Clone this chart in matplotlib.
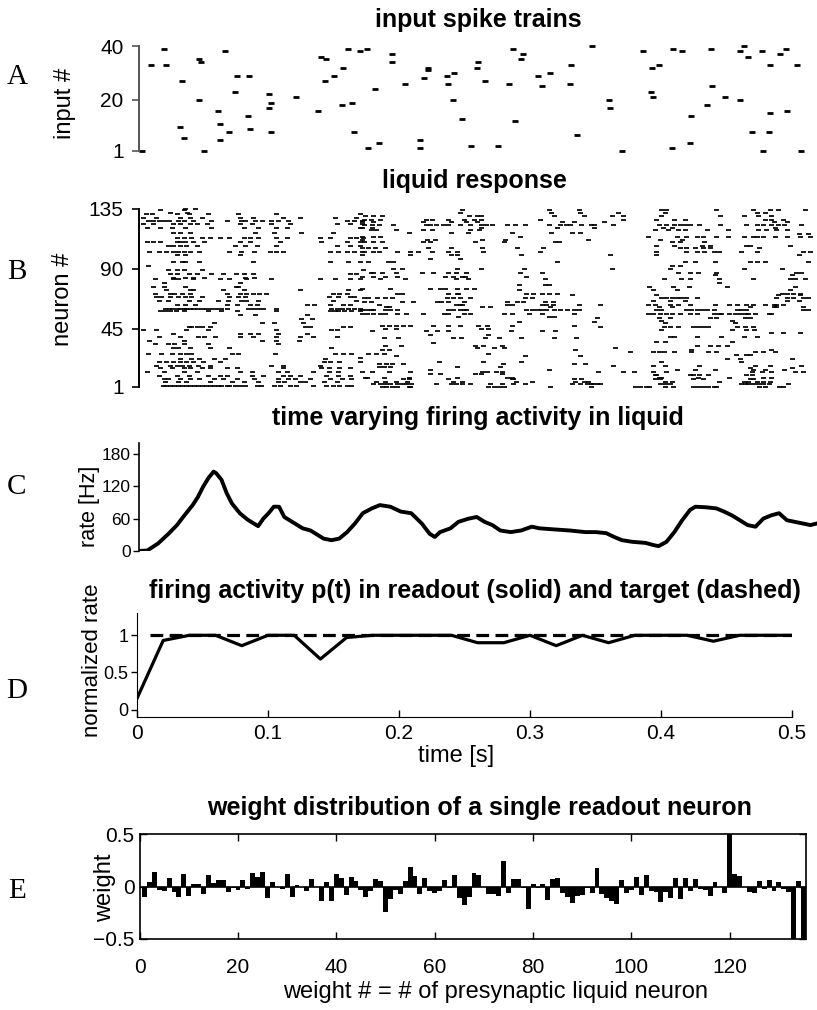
import numpy as np
import matplotlib.pyplot as plt

plt.rcParams['font.family'] = ['Liberation Sans', 'DejaVu Sans']

W, H = 817, 1010

# ---- A: input spike trains (time in ms, input number)
input_t_ms = [2, 9, 19, 21, 33, 31, 34, 46, 47, 46, 50, 66, 60, 62, 62, 69, 75, 73, 84, 83,
              85, 99, 101, 99, 101, 120, 137, 139, 143, 142, 149, 156, 155, 163, 160, 169, 174, 164, 175, 183,
              180, 193, 193, 203, 218, 221, 221, 215, 215, 235, 236, 241, 240, 247, 254, 259, 258, 274, 264, 286,
              293, 292, 283, 287, 305, 314, 308, 330, 329, 346, 335, 359, 360, 369, 385, 392, 397, 391, 393, 408,
              415, 407, 421, 422, 434, 438, 437, 448, 459, 462, 465, 459, 468, 476, 482, 482, 481, 477, 490, 494,
              495, 503, 506]
input_n = [1, 33, 39, 33, 27, 10, 6, 35, 34, 20, 1, 38, 16, 11, 5, 8, 29, 23, 29, 14,
           9, 22, 19, 17, 8, 21, 16, 36, 35, 27, 29, 32, 18, 19, 39, 38, 39, 8, 2, 4,
           24, 37, 34, 26, 28, 31, 32, 5, 2, 29, 26, 30, 20, 13, 3, 34, 32, 3, 27, 39,
           37, 35, 26, 12, 29, 30, 25, 33, 26, 40, 7, 20, 17, 1, 38, 32, 33, 23, 21, 39,
           38, 2, 4, 14, 18, 25, 39, 21, 38, 40, 36, 20, 8, 38, 33, 15, 8, 1, 37, 39,
           16, 33, 1]

# ---- B: liquid response, "neuron: spike times in ms"
liquid_rows = """
135: 35 43
134: 16 34
132: 24 37
131: 5 10 29 38 53 76 105 169
128: 3 13 31 39 48 77 87 110 123 150 166
126: 7 11 15 19 23 30 34 41 55 67 78 81 89 94 101 106 114 159 164 170
124: 3 11 26 31 39 44 52 77 86 101 115 151 161 170
121: 6 16 25 35 55 80 91 105 113 169
117: 26 31 39 89 103 124 148
113: 29 34 40 48 54 62 69 80 85 91 105 113 138 146 161 166 171
110: 6 11 16 29 31 35 41 50 77 85 108 139 159 169
107: 22 26 31 36 44 73 81 90 105 151 161 169
103: 8 15 21 26 30 34 39 46 69 78 88 100 105 110 146 152 159 164 170
100: 29 35 77
95: 26 33 35 46 87 146 160 169
92: 7
89: 22 29 34 48 171
86: 24 29 38 44 55 64 74 80 87 161 166
83: 26 35 41 50 81 88
82: 12 26 30 41 62 69 82 101 138 150 161 169
79: 19 77
76: 11 19 35 74 76
74: 21 39 41 64 80 123 160 169
71: 12 24 27 33 39 67 77 82 87 92 97 148 153 159
69: 13 17 24 30 35 40 48 69 76 81 145 152 161 164
66: 15 22 38 46 60 68 78 82 91 148 166
63: 29 35 43 67 75 85 90 128 134 146 156 161
60: 20 23 25 29 31 34 36 39 41 44 48 51 55 59 63 67 83 87 91 95 105 147 151 155 160 164 169
58: 16 20 24 28 34 53 63 75 105 146 150 152 157 162 169
55: 77 89 128
52: 124 132
49: 57 94 103 125
46: 38 40 44 48 54 127 131 156 161
44: 3 13 36 53 105 147 151
41: 26 77 85 91 106 128
39: 15 31 45 50 58 77 87 105 123 133 151
36: 8 34 94 105 122
33: 12 22 27 34 53 106
30: 26 30 39 54 69 147
26: 7 17 25 31 36 40 71 76 104 150 156 162
22: 31 40 46 57 66 142
20: 15 21 26 31 36 41 49 62 141 146 153 169
17: 13 24 29 33 38 45 54 101 110 138
15: 16 25 34 39 48 54 67 75 110 139 145 153 161
12: 6 19 34 44 77 86 106 113 133 145 152 170
9: 15 29 38 53 62 67 86 95 110 115 123 143 152 161
7: 19 22 31 39 46 57 64 75 88 106 114 119 131 146 155 162
5: 20 30 36 54 71 80 91 106 111 123 127 141 151
2: 18 21 24 27 30 33 36 39 42 45 48 51 54 57 60 63 67 69 73 77 81 90 93 103 108 115 120 133 143 148 153 159 162
134: 247 313 336
132: 245 315 337
130: 173 179 186 252 258 261 317 340
127: 172 177 184 219 224 236 248 256 261 306
125: 170 179 217 238 250 258 323 332
123: 172 178 183 194 219 222 227 232 236 245 253 261 265 270 281 287 295 313 322 326 329 338 345
121: 170 178 261 319
119: 177 181 196 217 224 253 260
117: 206 238 251 285 315 331 337
114: 170 179 184 291
112: 170 220 226 262 280 343
110: 172 179 186 217 222 257 279 318 321
106: 170 175 180 188 221 238 262 289 309
103: 172 179 183 197 207 213 224 236 243 263 306
100: 170 207 238 243 292
97: 222 245
95: 175 190 194 319
90: 194 201 243 261 294
87: 177 179 186 196 216 225 236 242 250 291 308
84: 170 179 188 197 234 240 247 249 296
82: 184 203 242 251 310
78: 290 310 313
75: 170 192 222 230 234 243 250 256
74: 290
71: 197 201 236 243 244 296 301 308 313 319
70: 331
68: 172 175 182 188 193 235 240 245 253 295 300
65: 172 177 201 209 228 231 236 248 281 289 293 310 316
63: 183 242 245 247 281 285 308 311 316 336
61: 189 191 262 268 314
59: 170 174 177 179 188 192 197 236 240 245 248 250 296 300 304 307 311 317 322 327 332 336
56: 170 174 179 184 188 197 204 217 233 236 248 253 279 285 298 308 332
54: 244 313 317
50: 290 348
47: 186 191 196 202 207 225 236 245 259 266 285 332
45: 188 196 261 267
43: 178 219 228 236 284 308 318
40: 222 267
38: 187 198 240 246 264 275 292 317 334
34: 225
32: 188 200 257 263 277
30: 258 271 279
29: 186 191 333
26: 175 181 187 267
24: 196 295 337
23: 169
20: 229 263 292
18: 183 189 193 202 278 332 341
16: 183 187 192 243 276
14: 222 313
12: 178 191 207 262 266 273 277
11: 222 230 257 261 277
8: 173 174 187 206 243 281 285
7: 202 206 236 285 286 332 338
5: 181 188 196 205 240 247 288 300 333 340 343
3: 179 184 188 192 197 201 204 208 227 238 242 247 253 268 277 286 295 331 337 342 345
1: 186 189 193 197 206 207 267 271 275 279 314 345
134: 399 403 441 469 482 488 509
132: 366 402 472 478
130: 361 370 399 444 462 473 483
127: 370 395 409 417 478 483 492
125: 355 485 495
123: 348 362 397 403 409 413 417 421 428 444 464 472 477 483 488 493 506
121: 348 400 407 486
119: 394 404 412 417 434 450 473 479 487 495
116: 504 511
114: 389 411 418 426 431 441 450 462 469 472 477 486 495 505 513
112: 398 415
110: 407 413 432
107: 395 409 430 436 464 467 497
106: 413 418 425 431 436 474
103: 395 418 426 432 439 443 460 472 507 513
100: 360 395 504
95: 417 425 440 467 472 478 511
92: 407 413
90: 361 406 462 491
87: 412 421 427 441 502 506
85: 440 499
82: 401 414 421 443 469 497 501 509
79: 443
76: 390 408 420 449 501
74: 393 411 497
71: 491 495 500 505
70: 395 488 505
68: 399 403 407 411 414 418 426 487 495 500 507 511
66: 393 406 417 495 504
63: 352 389 394 406 412 421 440 451 457 464 469 478 485 487 492
61: 397 407 467 485 487 507
59: 395 399 418 422 426 430 434 439 457 460 464 507 511
56: 389 393 398 403 407 413 421 426 439 443 445 451 455 459 463 465 471 481 483
53: 350 397 406 436 441 463 467
51: 399 453
49: 402 455
46: 352 401 406 412 423 427 431 435 457 463 469
44: 399 453 464 470
42: 483 492 505
39: 406 409 426 445 462 472
35: 395 402 453
32: 426 436 442 449
30: 364
29: 422 483
27: 375 393 397 401 409 422 435 441 471 477 486
25: 456 464 467
22: 449 459 499
20: 399 460
17: 362 393 402 428 471 482 506
15: 467 499
14: 411 425 440 469 478 493
12: 351 370 378 393 403 468 476 483 501 507
10: 394 395 421 423 428 435 464 468
8: 397 399 427 451 477 483
7: 394 398 423 431 467 469
5: 402 407 443 462 465 472 477 482
3: 347 350 352 398 402 406 460 463 465 469 473 477 481 496
1: 379 383 387 390 402 408 423 427 431 435 439 441 474 478 489 492
"""

# ---- C: population rate
rate_t = [0, 0.0064, 0.0146, 0.0226, 0.029, 0.0347, 0.041, 0.045, 0.049, 0.053,
          0.057, 0.059, 0.063, 0.067, 0.071, 0.077, 0.083, 0.087, 0.091, 0.095,
          0.099, 0.103, 0.107, 0.111, 0.115, 0.119, 0.125, 0.131, 0.135, 0.141,
          0.147, 0.153, 0.159, 0.165, 0.171, 0.178, 0.184, 0.192, 0.2, 0.208,
          0.216, 0.222, 0.226, 0.23, 0.238, 0.244, 0.252, 0.258, 0.264, 0.27,
          0.276, 0.284, 0.292, 0.3, 0.306, 0.317, 0.329, 0.341, 0.349, 0.357,
          0.363, 0.369, 0.377, 0.387, 0.393, 0.397, 0.403, 0.409, 0.415, 0.421,
          0.425, 0.433, 0.441, 0.447, 0.453, 0.459, 0.465, 0.471, 0.477, 0.483,
          0.489, 0.495, 0.501, 0.507, 0.513, 0.518]
rate_hz = [0, 1, 14, 32, 48, 66, 85, 100, 119, 135,
           147, 144, 132, 107, 88, 70, 58, 52, 46, 60,
           70, 82, 82, 63, 57, 51, 42, 38, 32, 23,
           20, 23, 35, 51, 70, 79, 85, 82, 73, 70,
           51, 32, 26, 35, 42, 54, 60, 63, 54, 48,
           38, 35, 38, 45, 42, 40, 38, 35, 35, 33,
           26, 20, 17, 15, 11, 9, 17, 35, 57, 76,
           82, 81, 79, 73, 66, 57, 48, 45, 60, 66,
           70, 57, 54, 51, 48, 51]

# ---- D: readout vs target
readout_t = [0, 0.02, 0.04, 0.06, 0.08, 0.10, 0.12, 0.14, 0.16, 0.18, 0.20, 0.22, 0.24,
             0.26, 0.28, 0.30, 0.32, 0.34, 0.36, 0.38, 0.40, 0.42, 0.44, 0.46, 0.48, 0.50]
readout = [0.15, 0.93, 1.0, 1.0, 0.86, 1.0, 1.0, 0.68, 0.97, 1.0, 1.0, 1.0, 1.0,
           0.9, 0.9, 1.0, 0.86, 1.0, 0.9, 1.0, 1.0, 1.0, 0.92, 1.0, 1.0, 1.0]
target_t = [0.01, 0.5]
target = [1.0, 1.0]

# ---- E: readout weights, one per liquid neuron
weights = [-0.10, 0.04, 0.14, -0.03, -0.04, 0.08, -0.05, -0.10, 0.12, -0.09,
           0.02, 0.02, -0.07, 0.11, 0.03, 0.06, 0.06, -0.05, -0.01, -0.03,
           0.06, -0.02, 0.13, 0.09, 0.14, -0.11, 0.04, 0.00, -0.02, 0.12,
           -0.10, 0.01, 0.00, -0.04, 0.07, 0.00, -0.14, 0.04, -0.14, 0.12,
           0.08, -0.08, 0.09, 0.05, -0.03, -0.10, -0.04, 0.07, 0.05, -0.24,
           -0.12, -0.03, -0.07, 0.05, 0.19, 0.10, -0.07, 0.08, -0.04, -0.06,
           -0.04, 0.06, -0.01, 0.11, -0.11, -0.18, -0.10, 0.13, 0.11, 0.00,
           -0.07, -0.07, -0.09, 0.24, -0.06, 0.07, 0.07, -0.01, -0.21, 0.02,
           -0.01, 0.02, -0.13, 0.07, 0.08, -0.06, -0.10, -0.16, -0.09, -0.08,
           -0.01, -0.06, 0.18, -0.07, -0.11, -0.14, -0.17, 0.06, -0.06, -0.03,
           0.09, -0.08, 0.11, -0.04, -0.05, -0.15, -0.05, -0.11, 0.08, -0.12,
           0.08, -0.04, 0.07, -0.02, -0.03, -0.09, 0.04, 0.00, -0.06, 0.50,
           0.12, 0.10, 0.00, -0.05, -0.06, 0.05, -0.02, 0.06, -0.04, 0.04,
           -0.02, -0.05, -0.50, 0.05, -0.50]

liq_t, liq_n = [], []
for line in liquid_rows.strip().splitlines():
    n, ts = line.split(':')
    for t in ts.split():
        liq_t.append(float(t) / 1000)
        liq_n.append(int(n))


def px_axes(fig, x0, y0, x1, y1):
    return fig.add_axes([x0 / W, 1 - y1 / H, (x1 - x0) / W, (y1 - y0) / H])


def left_only(ax):
    for s in ['top', 'right', 'bottom']:
        ax.spines[s].set_visible(False)
    ax.set_xticks([])


fig = plt.figure(figsize=(W / 100, H / 100), dpi=100)

title_kw = dict(fontsize=18, fontweight='bold', ha='center', va='baseline')
letter_kw = dict(fontsize=21, family='Liberation Serif', ha='center', va='center')
label_kw = dict(fontsize=17, rotation=90, ha='center', va='center')

# A
ax = px_axes(fig, 139, 46, 817, 151)
ax.plot(np.array(input_t_ms) / 1000, input_n, ls='none', marker='_', ms=4.5, mew=2.0,
        color='k', clip_on=False)
ax.set_xlim(0, 0.518)
ax.set_ylim(1, 40)
ax.set_yticks([1, 20, 40])
left_only(ax)
ax.spines['left'].set_color('#555555')
ax.spines['left'].set_linewidth(1.4)
ax.tick_params(axis='y', direction='out', length=5, width=1.2, pad=6, labelsize=15,
               color='#555555')
fig.text(478 / W, 1 - 27 / H, 'input spike trains', **title_kw)
fig.text(65 / W, 1 - 103 / H, 'input #', **label_kw)
fig.text(17 / W, 1 - 77 / H, 'A', **letter_kw)

# B
ax = px_axes(fig, 139, 209, 817, 387)
ax.plot(liq_t, liq_n, ls='none', marker='_', ms=3.6, mew=1.25, color='k', clip_on=False)
ax.set_xlim(0, 0.518)
ax.set_ylim(1, 135)
ax.set_yticks([1, 45, 90, 135])
left_only(ax)
ax.spines['left'].set_linewidth(1.4)
ax.tick_params(axis='y', direction='out', length=5, width=1.2, pad=6, labelsize=15)
fig.text(474 / W, 1 - 188 / H, 'liquid response', **title_kw)
fig.text(63 / W, 1 - 299 / H, 'neuron #', **label_kw)
fig.text(17 / W, 1 - 272 / H, 'B', **letter_kw)

# C
ax = px_axes(fig, 139, 443, 817, 551)
ax.plot(rate_t, rate_hz, color='k', lw=2.8, solid_joinstyle='round')
ax.set_xlim(0, 0.518)
ax.set_ylim(0, 200)
ax.set_yticks([0, 60, 120, 180])
left_only(ax)
ax.spines['left'].set_linewidth(1.2)
ax.tick_params(axis='y', direction='out', length=4, width=1.0, pad=2, labelsize=12.5)
fig.text(478 / W, 1 - 425 / H, 'time varying firing activity in liquid', **title_kw)
fig.text(89 / W, 1 - 506 / H, 'rate [Hz]', fontsize=15.5, rotation=90, ha='center',
         va='center')
fig.text(17 / W, 1 - 487 / H, 'C', **letter_kw)

# D
ax = px_axes(fig, 137, 613, 792, 717)
ax.plot(target_t, target, color='k', lw=2.3, dashes=(4, 2))
ax.plot(readout_t, readout, color='k', lw=2.3)
ax.set_xlim(0, 0.5)
ax.set_ylim(-0.1, 1.3)
ax.set_yticks([0, 0.5, 1])
ax.set_yticklabels(['0', '0.5', '1'])
ax.set_xticks([0, 0.1, 0.2, 0.3, 0.4, 0.5])
ax.set_xticklabels(['0', '0.1', '0.2', '0.3', '0.4', '0.5'])
for s in ['top', 'right']:
    ax.spines[s].set_visible(False)
ax.tick_params(axis='y', direction='out', length=4, width=1.0, pad=2, labelsize=13)
ax.tick_params(axis='x', direction='in', length=5, width=1.0, pad=5, labelsize=15)
fig.text(475 / W, 1 - 598 / H, 'firing activity p(t) in readout (solid) and target (dashed)',
         **title_kw)
fig.text(456 / W, 1 - 756 / H, 'time [s]', fontsize=17, ha='center', va='center')
fig.text(92 / W, 1 - 660 / H, 'normalized rate', fontsize=16, rotation=90, ha='center',
         va='center')
fig.text(17 / W, 1 - 691 / H, 'D', **letter_kw)

# E
ax = px_axes(fig, 139.6, 834, 806, 939)
ax.bar(np.arange(1, len(weights) + 1), weights, width=1.0, color='k')
ax.axhline(0, color='k', lw=1.2)
ax.set_xlim(0, 135.5)
ax.set_ylim(-0.5, 0.5)
ax.set_yticks([-0.5, 0, 0.5])
ax.set_yticklabels(['\u22120.5', '0', '0.5'])
ax.set_xticks(np.arange(0, 121, 20))
ax.tick_params(direction='in', top=True, right=True, length=5, width=1.0, labelsize=15)
ax.tick_params(axis='x', pad=14)
for s in ax.spines.values():
    s.set_linewidth(1.2)
fig.text(480 / W, 1 - 815 / H, 'weight distribution of a single readout neuron', **title_kw)
fig.text(496 / W, 1 - 992 / H, 'weight # = # of presynaptic liquid neuron', fontsize=17,
         ha='center', va='center')
fig.text(105 / W, 1 - 888 / H, 'weight', **label_kw)
fig.text(17 / W, 1 - 891 / H, 'E', **letter_kw)

fig.savefig('out.png', dpi=100)
